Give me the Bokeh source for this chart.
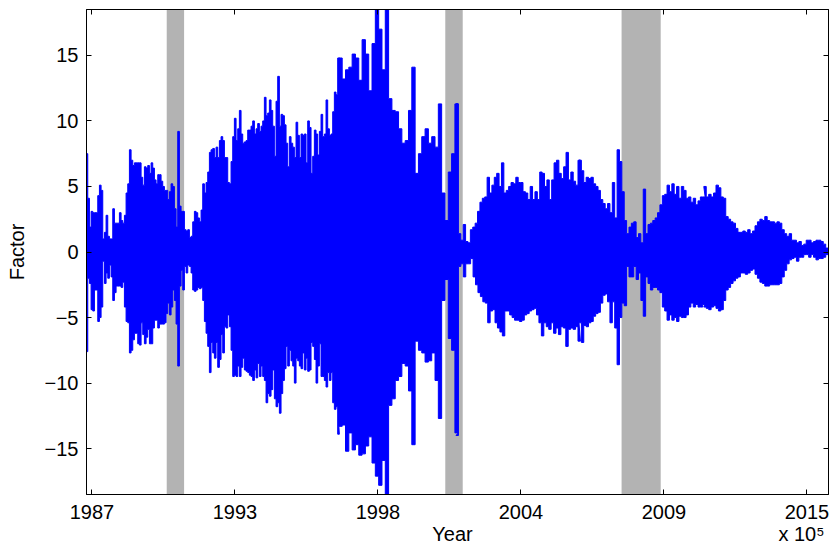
import numpy as np
from datetime import date
from bokeh.plotting import figure
from bokeh.models import Range1d, FixedTicker, LinearAxis, BoxAnnotation
from bokeh.embed import file_html
from bokeh.resources import INLINE


def datenum(y, m, d):
    # MATLAB serial date number
    return date(y, m, d).toordinal() + 366


# ---------------- data (envelope of the dense factor series) -------------
# each block: start / end MATLAB datenum, upper peaks, lower troughs
block_a_span = (725930, 729449)
block_a_upper = [7.5, 4.1, 1.9, 3.1, 3.0, 3.0, 3.0, 4.3, 5.1, 4.7, 1.0, 1.5, 2.8, 1.2, 1.0, 1.0, 3.3, 2.2, 2.2, 2.2,
                 3.0, 2.4, 2.2, 2.8, 4.5, 5.2, 7.8, 7.0, 6.6, 6.8, 6.8, 6.8, 6.8, 5.7, 5.1, 6.5, 6.4, 6.6, 6.0, 6.8,
                 6.4, 5.5, 5.2, 5.9, 5.9, 5.4, 5.0, 4.7, 4.7, 4.0, 4.6, 5.2, 5.0, 3.3, 1.9, 9.2, 3.5, 3.1, 3.1, 1.7,
                 1.6, 1.7, 1.1, 1.2, 2.3, 3.1, 3.0, 2.6, 2.3, 3.2, 5.2, 4.5, 5.3, 6.1, 7.6, 7.8, 7.9, 7.2, 8.0, 7.2,
                 8.5, 8.8, 8.5, 7.2, 7.2, 5.3, 5.2, 6.9, 8.8, 10.2, 8.5, 9.4, 10.8, 9.0, 8.3, 8.4, 8.5, 9.3, 9.3, 9.6,
                 10.0, 9.0, 9.4, 9.8, 9.2, 9.6, 10.0, 11.8, 10.4, 10.6, 11.6, 10.8, 9.6, 7.3, 11.5, 13.4, 9.6, 10.5,
                 10.4, 9.7, 8.3, 6.5, 8.8, 8.3, 8.0, 7.2, 9.9, 8.9, 7.2, 9.0, 8.9, 9.0, 6.8, 10.0, 9.5, 6.0, 7.3, 9.3,
                 9.0, 7.4, 9.2, 10.5, 8.8, 9.0, 11.6, 9.4, 8.9, 9.0, 10.7, 12.2, 12.0, 14.8]
block_a_lower = [-7.6, -2.0, -2.4, -4.4, -4.5, -2.9, -2.9, -5.3, -5.0, -4.2, -0.7, -2.4, -1.6, -2.0, -1.0, -1.9, -3.7,
                 -3.1, -2.6, -2.6, -2.6, -2.7, -2.3, -4.2, -5.3, -5.4, -7.7, -7.5, -6.7, -6.2, -6.2, -7.0, -7.1, -5.4,
                 -6.3, -7.0, -6.5, -5.9, -7.0, -7.0, -5.8, -5.2, -5.2, -5.8, -5.5, -5.5, -5.5, -5.4, -4.7, -3.9, -4.8,
                 -4.2, -2.9, -3.7, -5.5, -8.7, -2.6, -1.4, -2.9, -1.1, -1.6, -1.0, -1.1, -1.6, -2.9, -3.0, -2.9, -2.7,
                 -2.8, -2.7, -3.7, -5.3, -6.2, -7.2, -9.2, -6.9, -7.7, -8.1, -6.9, -8.8, -8.2, -6.3, -7.7, -5.7, -5.8,
                 -4.8, -5.7, -7.5, -9.5, -9.4, -9.5, -8.7, -9.5, -8.8, -8.1, -9.0, -9.1, -9.2, -9.4, -9.5, -9.8, -9.0,
                 -9.6, -8.5, -9.5, -8.7, -9.5, -9.8, -11.5, -10.8, -11.0, -10.5, -9.0, -11.2, -11.8, -11.5, -12.3,
                 -10.8, -9.8, -8.9, -7.2, -8.7, -7.5, -8.3, -8.7, -10.0, -8.1, -8.3, -8.7, -8.9, -7.7, -9.0, -8.1,
                 -9.1, -9.0, -6.9, -7.2, -8.2, -10.0, -8.7, -7.0, -9.5, -9.5, -9.8, -10.3, -9.2, -9.8, -9.2, -11.5,
                 -12.0, -11.8, -13.9]

block_b_span = (729477, 731100)
block_b_upper = [14.8, 13.2, 13.9, 14.1, 15.1, 14.8, 13.1, 16.2, 15.1, 12.3, 15.9, 18.6, 17.0, 13.9, 18.6, 11.7,
                 10.8, 10.7, 9.4, 8.3, 8.5, 10.8, 14.1, 6.0, 7.5, 8.8, 9.4, 8.3, 8.8, 8.0, 11.3, 4.5, 2.4, 6.1, 7.5,
                 11.3]
block_b_lower = [-13.3, -13.2, -15.2, -13.8, -15.1, -14.7, -15.5, -15.4, -14.8, -14.1, -16.1, -17.1, -17.8, -15.9,
                 -18.6, -11.7, -11.2, -9.8, -9.5, -8.5, -8.7, -10.6, -14.7, -6.8, -7.5, -7.7, -8.4, -8.3, -7.7, -9.8,
                 -12.7, -3.7, -2.1, -6.6, -7.5, -13.8]

block_c_span = (731109, 732815)
block_c_upper = [11.3, 1.4, 0.9, 2.1, 0.8, 0.7, 1.7, 1.9, 2.2, 3.1, 3.8, 4.1, 4.2, 5.7, 4.5, 5.1, 5.7, 6.0, 5.0, 6.8,
                 4.5, 4.7, 5.0, 5.3, 5.2, 5.7, 5.3, 5.3, 4.6, 4.5, 4.0, 5.0, 4.0, 4.6, 4.0, 6.1, 6.0, 5.0, 5.5, 4.0,
                 5.5, 6.8, 7.0, 6.0, 5.6, 6.5, 7.6, 5.5, 6.1, 5.4, 5.1, 7.0]
block_c_lower = [-14.0, -1.1, -0.9, -1.9, -0.9, -0.9, -0.5, -1.9, -2.5, -3.1, -3.4, -3.8, -3.9, -5.4, -4.5, -4.4,
                 -5.4, -5.8, -6.1, -6.4, -4.5, -4.5, -4.8, -5.0, -5.2, -5.2, -5.3, -5.2, -4.8, -4.7, -4.5, -4.4, -4.3,
                 -4.8, -5.4, -6.4, -5.4, -5.7, -5.9, -5.4, -6.2, -5.8, -6.3, -5.7, -5.8, -7.2, -5.9, -5.8, -5.9, -5.7,
                 -6.8]

block_d_span = (732829, 734560)
block_d_upper = [7.0, 6.2, 5.3, 5.7, 5.6, 5.7, 5.2, 5.0, 4.7, 4.0, 3.7, 3.3, 3.7, 3.0, 5.3, 2.6, 7.8, 6.9, 4.6, 2.4,
                 1.4, 1.9, 2.2, 2.3, 1.1, 1.4, 0.7, 4.8, 1.4, 2.1, 2.2, 2.4, 2.6, 3.0, 3.6, 4.3, 4.4, 5.1, 4.6, 5.2,
                 4.4, 5.0, 4.1, 5.0, 4.7, 4.1, 4.2, 3.8, 4.1, 3.6, 3.9, 4.2, 4.2]
block_d_lower = [-5.4, -6.9, -5.6, -5.7, -5.4, -5.3, -4.9, -4.7, -4.6, -3.9, -3.3, -3.2, -3.8, -5.4, -3.8, -5.8,
                 -8.6, -5.0, -3.9, -4.1, -1.1, -1.9, -1.9, -1.1, -2.1, -1.6, -3.7, -4.9, -1.9, -2.4, -2.9, -2.7, -2.7,
                 -2.9, -3.1, -4.2, -4.5, -5.2, -4.8, -5.2, -5.0, -5.3, -4.9, -5.0, -5.0, -4.8, -4.2, -3.9, -4.2, -4.0,
                 -4.2, -4.2, -4.0]

block_e_span = (734575, 736280)
block_e_upper = [5.0, 4.2, 4.4, 4.2, 4.5, 5.1, 4.9, 4.2, 4.1, 2.7, 2.5, 2.3, 2.2, 1.8, 1.5, 1.5, 1.6, 1.5, 1.7, 1.4,
                 1.6, 2.0, 2.3, 2.5, 2.4, 2.7, 2.4, 2.3, 2.3, 2.2, 2.3, 2.2, 1.7, 1.4, 1.2, 1.4, 0.9, 0.9, 0.7, 0.8,
                 0.5, 0.6, 0.9, 0.9, 0.7, 0.8, 0.9, 0.9, 0.8, 0.6, 0.3]
block_e_lower = [-4.2, -4.3, -4.4, -4.2, -4.1, -4.3, -4.5, -4.4, -3.7, -2.9, -2.7, -2.4, -2.2, -2.0, -1.9, -1.6,
                 -1.6, -1.7, -1.6, -1.4, -1.3, -1.7, -2.0, -2.3, -2.4, -2.6, -2.6, -2.5, -2.5, -2.5, -2.5, -2.4, -1.9,
                 -1.4, -0.9, -0.6, -0.5, -0.4, -0.7, -0.4, -0.4, -0.2, -0.2, -0.4, -0.2, -0.4, -0.6, -0.5, -0.5, -0.4,
                 -0.2]

# recession periods (start, end)
recessions = [((1990, 8, 1), (1991, 4, 1)),
              ((2001, 4, 1), (2001, 12, 1)),
              ((2008, 1, 1), (2009, 7, 1))]

# axes
x_limits = (725924, 736302)
y_limits = (-18.5, 18.5)
x_tick_values = [726000, 728000, 730000, 732000, 734000, 736000]
x_tick_labels = ["1987", "1993", "1998", "2004", "2009", "2015"]
y_tick_values = [-15, -10, -5, 0, 5, 10, 15]
x_title = "Year"
x_exponent = "x 10\u2075"
y_title = "Factor"

# ---------------- build ----------------
blocks = [(block_a_span, block_a_upper, block_a_lower),
          (block_b_span, block_b_upper, block_b_lower),
          (block_c_span, block_c_upper, block_c_lower),
          (block_d_span, block_d_upper, block_d_lower),
          (block_e_span, block_e_upper, block_e_lower)]


def step_outline(dates, vals):
    """each reading held over its own sampling interval (vertical edges, like a dense line plot)"""
    dates = np.asarray(dates, float)
    half = (dates[1] - dates[0]) / 2.0 if len(dates) > 1 else 0.0
    xs, ys = [], []
    for d, v in zip(dates, vals):
        xs += [d - half, d + half]
        ys += [v, v]
    return xs, ys


ux, uy, lx, ly = [], [], [], []
for (s, e), up, lo in blocks:
    a, b = step_outline(np.linspace(s, e, len(up)), up)
    ux += a
    uy += b
    a, b = step_outline(np.linspace(s, e, len(lo)), lo)
    lx += a
    ly += b

poly_x = ux + lx[::-1]
poly_y = uy + ly[::-1]

FONT = "Liberation Sans"
W, H = 833, 559
FL, FR, FT, FB = 86, 5, 9, 65          # borders around the frame (px)
frame_w = W - FL - FR
days_per_px = (x_limits[1] - x_limits[0]) / frame_w

p = figure(width=W, height=H,
           x_range=Range1d(*x_limits), y_range=Range1d(*y_limits),
           output_backend="svg", toolbar_location=None,
           min_border_left=FL, min_border_right=FR, min_border_top=FT, min_border_bottom=FB)
p.background_fill_color = "white"
p.border_fill_color = "white"
p.xgrid.visible = False
p.ygrid.visible = False
p.outline_line_color = "black"
p.outline_line_width = 1

for (s, e) in recessions:
    p.add_layout(BoxAnnotation(left=datenum(*s), right=datenum(*e),
                               fill_color="#b3b3b3", fill_alpha=1.0, line_color=None,
                               level="underlay"))

p.patch(poly_x, poly_y, fill_color="#0000ff", line_color="#0000ff", line_width=1)

ax = p.xaxis[0]
ax.ticker = FixedTicker(ticks=x_tick_values)
ax.major_label_overrides = {v: l for v, l in zip(x_tick_values, x_tick_labels)}
ay = p.yaxis[0]
ay.ticker = FixedTicker(ticks=y_tick_values)

for a in (ax, ay):
    a.major_tick_in = 5
    a.major_tick_out = 0
    a.minor_tick_in = 0
    a.minor_tick_out = 0
    a.axis_line_color = "black"
    a.major_tick_line_color = "black"
    a.major_label_text_font = FONT
    a.major_label_text_font_size = "20px"
    a.major_label_text_color = "black"
    a.axis_label_text_font = FONT
    a.axis_label_text_font_size = "20px"
    a.axis_label_text_font_style = "normal"
    a.axis_label_text_color = "black"

ax.major_label_standoff = 10
ay.axis_label = y_title
ay.major_label_standoff = 8
ay.axis_label_standoff = 14

# second row below the x axis: axis title and the exponent note
pos_title = int(round(x_limits[0] + (452 - FL) * days_per_px))
pos_exp = int(round(x_limits[0] + (801 - FL) * days_per_px))
row2 = LinearAxis(ticker=FixedTicker(ticks=[pos_title, pos_exp]),
                  major_label_overrides={pos_title: x_title, pos_exp: x_exponent},
                  major_label_text_font=FONT, major_label_text_font_size="20px",
                  major_label_text_color="black", major_label_standoff=1,
                  major_tick_in=0, major_tick_out=0, minor_tick_in=0, minor_tick_out=0,
                  major_tick_line_color=None, minor_tick_line_color=None, axis_line_color=None)
p.add_layout(row2, "below")

top = LinearAxis(ticker=FixedTicker(ticks=x_tick_values),
                 major_label_overrides={v: "" for v in x_tick_values},
                 major_label_text_font_size="0px", major_label_standoff=0,
                 major_tick_in=5, major_tick_out=0, minor_tick_in=0, minor_tick_out=0,
                 axis_line_color="black")
p.add_layout(top, "above")
right = LinearAxis(ticker=FixedTicker(ticks=y_tick_values),
                   major_label_overrides={v: "" for v in y_tick_values},
                   major_label_text_font_size="0px", major_label_standoff=0,
                   major_tick_in=5, major_tick_out=0, minor_tick_in=0, minor_tick_out=0,
                   axis_line_color="black")
p.add_layout(right, "right")

open("out.html", "w").write(file_html(p, INLINE))
